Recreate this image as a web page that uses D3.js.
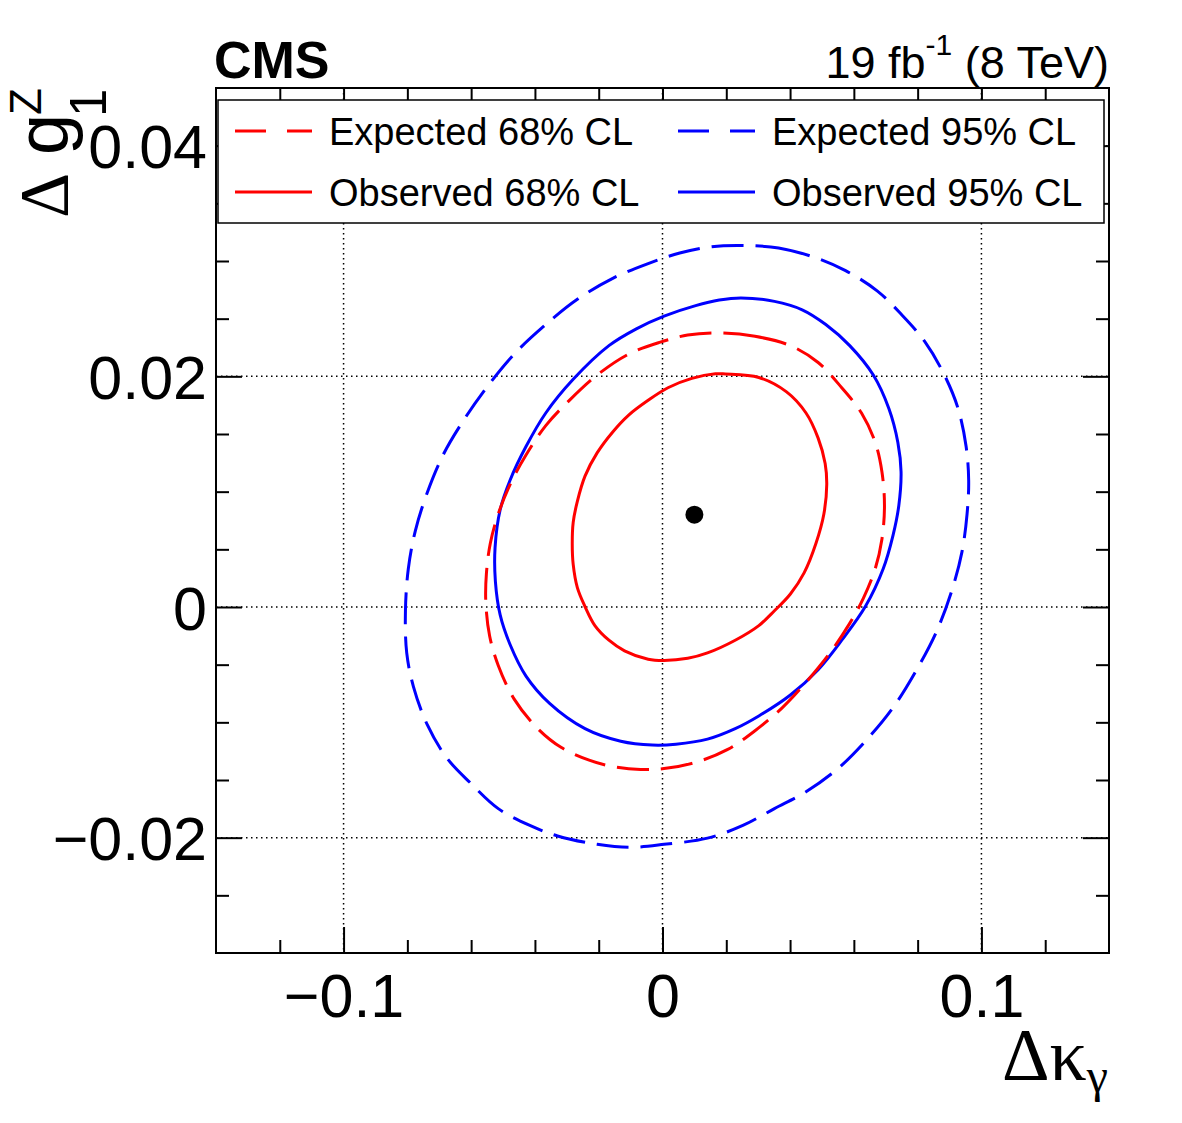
<!DOCTYPE html>
<html><head><meta charset="utf-8">
<script src="https://cdn.jsdelivr.net/npm/d3@7"></script>
<style>html,body{margin:0;padding:0;background:#fff;}</style>
</head><body>
<script>
// ---------- data ----------
const xMajorTicks = [-0.1, 0, 0.1];
const xTickLabels = ["\u22120.1", "0", "0.1"];
const xMinorTicks = [-0.12, -0.08, -0.06, -0.04, -0.02, 0.02, 0.04, 0.06, 0.08, 0.12];
const yMajorTicks = [-0.02, 0, 0.02, 0.04];
const yTickLabels = ["\u22120.02", "0", "0.02", "0.04"];
const yMinorTicks = [-0.025, -0.015, -0.01, -0.005, 0.005, 0.01, 0.015, 0.025, 0.03, 0.035];

const bestFit = [0.010, 0.008];

const observed68 = [
 [0.0197,0.0202],[0.0302,0.0199],[0.0389,0.01865],[0.0450,0.01682],[0.0488,0.01464],[0.0510,0.01245],
 [0.0515,0.01062],[0.0506,0.00807],[0.0481,0.00551],[0.0444,0.00296],[0.0401,0.00113],[0.0351,-0.00033],
 [0.0302,-0.00161],[0.0228,-0.00288],[0.0141,-0.00398],[0.0079,-0.00445],[0.0005,-0.00464],[-0.0045,-0.00453],
 [-0.0119,-0.0038],[-0.0168,-0.00288],[-0.0212,-0.00161],[-0.0243,0.00004],[-0.0267,0.00168],[-0.0280,0.00369],
 [-0.0283,0.00551],[-0.0280,0.00734],[-0.0267,0.00916],[-0.0243,0.01135],[-0.0205,0.01336],[-0.0156,0.01518],
 [-0.0106,0.01664],[-0.0045,0.01792],[0.0017,0.01901],[0.0092,0.01982],[0.0166,0.02022]
];
const expected68 = [
 [0.0178,0.02376],[0.0290,0.02347],[0.0401,0.02266],[0.0488,0.0212],[0.0562,0.01901],[0.0624,0.01682],
 [0.0667,0.01427],[0.0688,0.01172],[0.0696,0.0088],[0.0688,0.00588],[0.0667,0.00332],[0.0630,0.00077],
 [0.0587,-0.00142],[0.0525,-0.00398],[0.0450,-0.00653],[0.0376,-0.00872],[0.0290,-0.01073],[0.0203,-0.01237],
 [0.0104,-0.01347],[0.0005,-0.01401],[-0.0069,-0.01409],[-0.0156,-0.01383],[-0.0230,-0.01328],[-0.0317,-0.01219],
 [-0.0391,-0.01055],[-0.0465,-0.00799],[-0.0515,-0.00507],[-0.0542,-0.00252],[-0.0554,0.0004],[-0.0552,0.00296],
 [-0.0540,0.00551],[-0.0515,0.00807],[-0.0478,0.01062],[-0.0428,0.01318],[-0.0366,0.01573],[-0.0292,0.01792],
 [-0.0205,0.02011],[-0.0106,0.02193],[-0.0007,0.02296],[0.0079,0.02358]
];
const observed95 = [
 [0.0246,0.02679],[0.0351,0.0265],[0.0438,0.02577],[0.0512,0.02449],[0.0587,0.02266],[0.0661,0.02011],
 [0.0710,0.01719],[0.0738,0.01427],[0.0748,0.01172],[0.0741,0.0088],[0.0723,0.00624],[0.0692,0.00332],
 [0.0636,0.00004],[0.0562,-0.00288],[0.0488,-0.00544],[0.0401,-0.00763],[0.0302,-0.00945],[0.0228,-0.01055],
 [0.0141,-0.01146],[0.0042,-0.0119],[-0.0032,-0.01197],[-0.0131,-0.01164],[-0.0243,-0.01055],[-0.0354,-0.00836],
 [-0.0428,-0.00599],[-0.0478,-0.00325],[-0.0509,-0.00069],[-0.0524,0.00223],[-0.0525,0.00515],[-0.0509,0.00843],
 [-0.0478,0.01099],[-0.0428,0.01391],[-0.0366,0.01682],[-0.0280,0.01974],[-0.0168,0.02266],[-0.0082,0.02412],
 [0.0005,0.02522],[0.0104,0.02613],[0.0178,0.02661]
];
const expected95 = [
 [0.0252,0.03135],[0.0364,0.03113],[0.0475,0.03033],[0.0574,0.02916],[0.0673,0.02741],[0.0748,0.0254],
 [0.0822,0.02303],[0.0884,0.02011],[0.0927,0.01719],[0.0952,0.01391],[0.0960,0.01099],[0.0955,0.00807],
 [0.0939,0.00478],[0.0908,0.0015],[0.0859,-0.00215],[0.0797,-0.00544],[0.0723,-0.00872],[0.0636,-0.01164],
 [0.0550,-0.01401],[0.0450,-0.01602],[0.0351,-0.01748],[0.0252,-0.01894],[0.0141,-0.02004],[0.0005,-0.02058],
 [-0.0106,-0.02084],[-0.0205,-0.02058],[-0.0329,-0.01985],[-0.0416,-0.01894],[-0.0515,-0.01748],[-0.0601,-0.01529],
 [-0.0676,-0.0131],[-0.0738,-0.01018],[-0.0781,-0.0069],[-0.0802,-0.00398],[-0.0806,-0.00033],[-0.0797,0.00332],
 [-0.0775,0.00661],[-0.0738,0.00989],[-0.0688,0.01318],[-0.0626,0.01609],[-0.0552,0.01901],[-0.0465,0.02193],
 [-0.0366,0.02449],[-0.0267,0.02668],[-0.0156,0.0285],[-0.0045,0.02978],[0.0054,0.03069],[0.0153,0.03124]
];
const seriesNames = ["Expected 68% CL", "Observed 68% CL", "Expected 95% CL", "Observed 95% CL"];

// ---------- layout ----------
const W = 1182, H = 1123;
const L = 216, R = 1109, T = 88, B = 953;
const x = d3.scaleLinear().domain([-0.14, 0.14]).range([L, R]);
const y = d3.scaleLinear().domain([-0.03, 0.045]).range([B, T]);
const sans = "'Liberation Sans', Arial, Helvetica, sans-serif";
const serif = "'Liberation Serif', 'Times New Roman', serif";

const svg = d3.select("body").append("svg").attr("width", W).attr("height", H)
  .style("font-family", sans);
svg.append("rect").attr("width", W).attr("height", H).attr("fill", "#fff");

// grid
const grid = svg.append("g").attr("stroke", "#000").attr("stroke-width", 1.5).attr("stroke-dasharray", "1.5,3.5");
grid.selectAll(".gx").data(xMajorTicks).join("line")
  .attr("x1", d => x(d)).attr("x2", d => x(d)).attr("y1", T).attr("y2", B);
grid.selectAll(".gy").data(yMajorTicks).join("line")
  .attr("y1", d => y(d)).attr("y2", d => y(d)).attr("x1", L).attr("x2", R);

// contours
const line = d3.line().x(d => x(d[0])).y(d => y(d[1])).curve(d3.curveCatmullRomClosed.alpha(0.5));
const contours = [
  {data: expected95, color: "#0000ff", dash: "32,12"},
  {data: observed95, color: "#0000ff", dash: null},
  {data: expected68, color: "#ff0000", dash: "32,12"},
  {data: observed68, color: "#ff0000", dash: null}
];
svg.append("g").selectAll("path").data(contours).join("path")
  .attr("d", d => line(d.data)).attr("fill", "none")
  .attr("stroke", d => d.color).attr("stroke-width", 3)
  .attr("stroke-dasharray", d => d.dash);

svg.append("circle").attr("cx", x(bestFit[0])).attr("cy", y(bestFit[1])).attr("r", 9).attr("fill", "#000");

// axes
function styleAxis(g) {
  g.select(".domain").remove();
  g.selectAll(".tick line").attr("stroke", "#000").attr("stroke-width", 2);
  g.selectAll("text").attr("fill", "#000").attr("font-family", sans).attr("font-size", 61);
}
const gxB = svg.append("g").attr("transform", `translate(0,${B})`)
  .call(d3.axisBottom(x).tickValues(xMajorTicks).tickSize(-26).tickFormat((d, i) => xTickLabels[i]));
styleAxis(gxB);
gxB.selectAll("text").attr("y", 64).attr("dy", 0);
svg.append("g").attr("transform", `translate(0,${B})`)
  .call(d3.axisBottom(x).tickValues(xMinorTicks).tickSize(-13).tickFormat("")).call(styleAxis);
svg.append("g").attr("transform", `translate(0,${T})`)
  .call(d3.axisTop(x).tickValues(xMajorTicks).tickSize(-26).tickFormat("")).call(styleAxis);
svg.append("g").attr("transform", `translate(0,${T})`)
  .call(d3.axisTop(x).tickValues(xMinorTicks).tickSize(-13).tickFormat("")).call(styleAxis);

const gyL = svg.append("g").attr("transform", `translate(${L},0)`)
  .call(d3.axisLeft(y).tickValues(yMajorTicks).tickSize(-26).tickFormat((d, i) => yTickLabels[i]));
styleAxis(gyL);
gyL.selectAll("text").attr("x", -9).attr("dy", 0).attr("y", 22);
svg.append("g").attr("transform", `translate(${L},0)`)
  .call(d3.axisLeft(y).tickValues(yMinorTicks).tickSize(-13).tickFormat("")).call(styleAxis);
svg.append("g").attr("transform", `translate(${R},0)`)
  .call(d3.axisRight(y).tickValues(yMajorTicks).tickSize(-26).tickFormat("")).call(styleAxis);
svg.append("g").attr("transform", `translate(${R},0)`)
  .call(d3.axisRight(y).tickValues(yMinorTicks).tickSize(-13).tickFormat("")).call(styleAxis);

// frame
svg.append("rect").attr("x", L).attr("y", T).attr("width", R - L).attr("height", B - T)
  .attr("fill", "none").attr("stroke", "#000").attr("stroke-width", 2);

// legend
const lg = svg.append("g");
lg.append("rect").attr("x", 218).attr("y", 100).attr("width", 886).attr("height", 123)
  .attr("fill", "#fff").attr("stroke", "#000").attr("stroke-width", 1.5);
const legendItems = [
  {name: seriesNames[0], color: "#ff0000", dash: "31,21", lx: 235, ty: 131},
  {name: seriesNames[1], color: "#ff0000", dash: null, lx: 235, ty: 192},
  {name: seriesNames[2], color: "#0000ff", dash: "31,21", lx: 678, ty: 131},
  {name: seriesNames[3], color: "#0000ff", dash: null, lx: 678, ty: 192}
];
legendItems.forEach(d => {
  lg.append("line").attr("x1", d.lx).attr("x2", d.lx + 77).attr("y1", d.ty).attr("y2", d.ty)
    .attr("stroke", d.color).attr("stroke-width", 3).attr("stroke-dasharray", d.dash);
  lg.append("text").attr("x", d.lx + 94).attr("y", d.ty + 14).attr("font-size", 38).attr("fill", "#000").text(d.name);
});

// header texts
svg.append("text").attr("x", 214).attr("y", 78).attr("font-size", 52).attr("font-weight", "bold").text("CMS");
const lumi = svg.append("text").attr("x", 1109).attr("y", 78).attr("text-anchor", "end").attr("font-size", 45);
lumi.append("tspan").text("19 fb");
lumi.append("tspan").attr("font-size", 30).attr("dy", -23).text("-1");
lumi.append("tspan").attr("dy", 23).text(" (8 TeV)");

// x axis title
const xt = svg.append("text").attr("x", 1108).attr("y", 1080).attr("text-anchor", "end").attr("font-family", serif).attr("font-size", 74);
xt.append("tspan").text("\u0394\u03BA");
xt.append("tspan").attr("font-size", 48).attr("dy", 12).text("\u03B3");

// y axis title (rotated)
const yt = svg.append("g").attr("transform", "translate(68,218) rotate(-90)");
yt.append("text").attr("x", 0).attr("y", 0).attr("font-family", serif).attr("font-size", 70).text("\u0394");
yt.append("text").attr("x", 63).attr("y", 0).attr("font-size", 74).text("g");
yt.append("text").attr("x", 101).attr("y", 38).attr("font-size", 51).text("1");
yt.append("text").attr("x", 103).attr("y", -27).attr("font-size", 44).text("Z");
</script>
</body></html>
